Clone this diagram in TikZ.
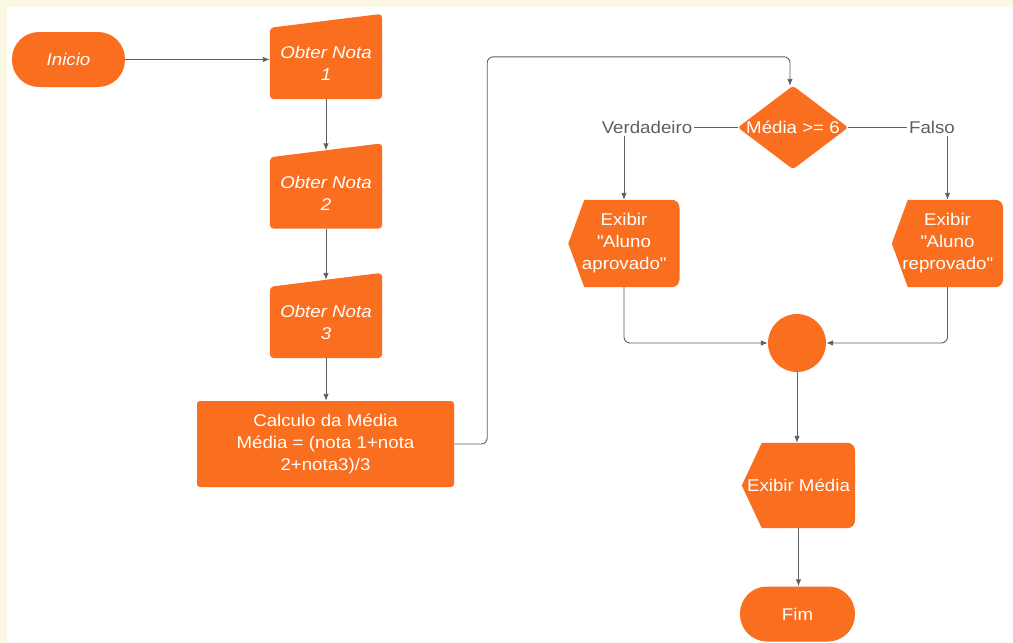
\documentclass[tikz,border=0pt]{standalone}
\usepackage{fontspec}
\setmainfont{Liberation Sans}[FakeStretch=1.1]
\usetikzlibrary{arrows.meta,backgrounds,calc}
\pgfdeclarelayer{pagebg}
\pgfsetlayers{pagebg,background,main}
\definecolor{fc}{RGB}{250,110,32}
\definecolor{ln}{RGB}{95,95,95}
\definecolor{bgc}{RGB}{250,248,226}
\tikzset{
 base/.style={inner sep=0pt, text=white, align=center, font=\fontsize{17}{22}\selectfont},
 term/.style={base, fill=fc, rounded corners=27pt, minimum width=113pt, minimum height=55pt},
 iobox/.style={base, minimum width=112pt, minimum height=71pt},
 proc/.style={base, fill=fc, rounded corners=3pt, minimum width=257pt, minimum height=86pt},
 disp/.style={base, minimum width=111pt, minimum height=87pt},
 dec/.style={base, minimum width=110pt, minimum height=83pt},
 lbl/.style={inner sep=2pt, text=ln, font=\fontsize{17}{22}\selectfont},
 conn/.style={draw=ln, line width=0.9pt, -{Latex[length=7pt,width=5.5pt]}, rounded corners=6pt},
 plain/.style={draw=ln, line width=0.9pt},
 ioshape/.style={fill=fc, rounded corners=4pt},
}
\begin{document}
\begin{tikzpicture}[x=1pt,y=-1pt]
\useasboundingbox (0,0) rectangle (1013,643);
\begin{pgfonlayer}{pagebg}
\fill[bgc] (0,0) rectangle (1013,643);
\fill[white] (7,7) rectangle (1013,643);
\end{pgfonlayer}
% nodes
\node[term] (ini) at (68.5,59.5) {\itshape Inicio};
\node[iobox] (n1) at (326,63.5) {\itshape Obter Nota\\\itshape 1};
\node[iobox] (n2) at (326,193) {\itshape Obter Nota\\\itshape 2};
\node[iobox] (n3) at (326,322.5) {\itshape Obter Nota\\\itshape 3};
\node[proc] (calc) at (325.5,444) {Calculo da Média\\Média = (nota 1+nota\\2+nota3)/3};
\node[dec] (dec) at (793,127.5) {Média >= 6};
\node[lbl] (ver) at (647,127.5) {Verdadeiro};
\node[lbl] (fal) at (932,127.5) {Falso};
\node[disp] (ap) at (624,243.5) {Exibir\\\textquotedbl Aluno\\aprovado\textquotedbl};
\node[disp] (rp) at (947.5,243.5) {Exibir\\\textquotedbl Aluno\\reprovado\textquotedbl};
\node[circle, fill=fc, minimum size=58pt, inner sep=0pt] (m) at (797,343) {};
\node[disp, minimum width=113pt, minimum height=85pt] (em) at (798.5,485.5) {Exibir Média};
\node[term, minimum width=115pt] (fim) at (797.5,614) {Fim};
% shapes behind text
\begin{scope}[on background layer]
\foreach \n in {n1,n2,n3}{
 \fill[ioshape] (\n.south west) -- (\n.north west) -- ($(\n.north east)+(0,14pt)$) -- (\n.south east) -- cycle;
}
\fill[fc, rounded corners=3pt] (dec.north) -- (dec.east) -- (dec.south) -- (dec.west) -- cycle;
\foreach \n/\s in {ap/16pt,rp/16pt,em/20pt}{
 \fill[fc] ($(\n.north west)+(\s,0)$) -- ($(\n.north east)+(-9pt,0)$)
   .. controls ($(\n.north east)+(-2pt,0)$) and ($(\n.north east)+(0,-4pt)$) .. ($(\n.north east)+(0,-10pt)$)
   -- ($(\n.south east)+(0,10pt)$)
   .. controls ($(\n.south east)+(0,4pt)$) and ($(\n.south east)+(-2pt,0)$) .. ($(\n.south east)+(-9pt,0)$)
   -- ($(\n.south west)+(\s,0)$) -- (\n.west) -- cycle;
}
\end{scope}
% connector end points
\coordinate (n2t) at ($(n2.north)+(0,7pt)$);
\coordinate (n3t) at ($(n3.north)+(0,7pt)$);
\coordinate (top) at ($(dec.north)+(-3pt,29pt)$);
% connectors
\draw[conn] (ini.east) -- (ini.east -| n1.west);
\draw[conn] (n1.south) -- (n2t);
\draw[conn] (n2.south) -- (n3t);
\draw[conn] (n3.south) -- (n3.south |- calc.north);
\draw[conn] (calc.east) -- ++(33pt,0) |- (top) -- (top |- dec.north);
\draw[plain] (dec.west) -- (ver.east);
\draw[plain] (dec.east) -- (fal.west);
\draw[conn] (ap.north |- ver.south) -- (ap.north);
\draw[conn] (rp.north |- fal.south) -- (rp.north);
\draw[conn] (ap.south) |- (m.west);
\draw[conn] (rp.south) |- (m.east);
\draw[conn] (m.south) -- (m.south |- em.north);
\draw[conn] (em.south) -- (em.south |- fim.north);
\end{tikzpicture}
\end{document}
